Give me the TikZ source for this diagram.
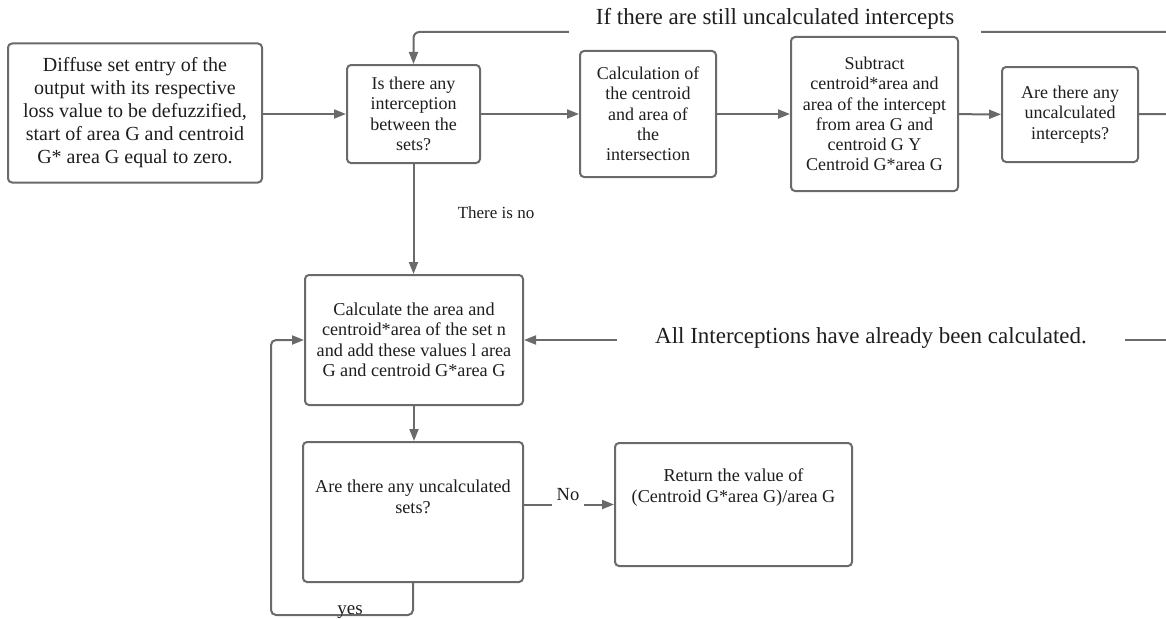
\documentclass[tikz,border=0pt]{standalone}
\usepackage{fontspec}
\setmainfont{Liberation Serif}
\usetikzlibrary{arrows.meta}
\definecolor{edge}{HTML}{6A6A6A}
\definecolor{ink}{HTML}{1E1E1E}
\begin{document}
\begin{tikzpicture}[x=1pt,y=-1pt,
  box/.style={draw=edge, line width=2pt, rounded corners=4pt, align=center, text=ink, inner sep=2pt, fill=white},
  conn/.style={draw=edge, line width=2pt, -{Triangle[length=12pt,width=9pt]}},
  plain/.style={draw=edge, line width=2pt},
  lbl/.style={text=ink, fill=white, inner sep=0pt},
  fA/.style={font=\fontsize{20}{23}\selectfont},
  fB/.style={font=\fontsize{18}{20.3}\selectfont},
  fC/.style={font=\fontsize{18.2}{20.5}\selectfont},
  fD/.style={font=\fontsize{23}{26}\selectfont}]
\useasboundingbox (0,0) rectangle (1166,618);

% nodes
\node[box, fA, minimum width=254pt, minimum height=139pt] (b1) at (135,113)
  {Diffuse set entry of the\\output with its respective\\loss value to be defuzzified,\\start of area G and centroid\\G* area G equal to zero.};
\node[box, fB, minimum width=133pt, minimum height=98pt] (b2) at (413.5,114)
  {Is there any\\interception\\between the\\sets?};
\node[box, fB, minimum width=136pt, minimum height=126pt] (b3) at (648,114)
  {Calculation of\\the centroid\\and area of\\the\\intersection};
\node[box, fB, minimum width=167pt, minimum height=154pt] (b4) at (874.5,114)
  {Subtract\\centroid*area and\\area of the intercept\\from area G and\\centroid G Y\\Centroid G*area G};
\node[box, fB, minimum width=136pt, minimum height=95pt] (b5) at (1070,114.5)
  {Are there any\\uncalculated\\intercepts?};
\node[box, fC, minimum width=218pt, minimum height=130pt] (b6) at (414,340)
  {Calculate the area and\\centroid*area of the set n\\and add these values l area\\G and centroid G*area G};
\node[box, minimum width=220pt, minimum height=140pt,
  label={[fC, align=center, text=ink, yshift=15pt]center:Are there any uncalculated\\sets?}] (b7) at (413,512) {};
\node[box, minimum width=237pt, minimum height=123pt,
  label={[fC, align=center, text=ink, yshift=17pt]center:Return the value of\\(Centroid G*area G)/area G}] (b8) at (733.5,504.5) {};

% coordinates at the cut right edge
\coordinate (r0) at (1166,32);
\coordinate (r1) at (1166,114);
\coordinate (r2) at (1166,340);
\coordinate (c1) at (271,615);

% connectors
\draw[conn] (b1.east |- b2.west) -- (b2.west);
\draw[conn] (b2) -- (b3);
\draw[conn] (b3) -- (b4);
\draw[conn] (b4) -- (b5);
\draw[plain] (b5) -- (r1);
\draw[conn, rounded corners=6pt] (r0) -| (b2.north);
\draw[conn] (b2.south) -- (b2.south |- b6.north);
\draw[conn] (r2) -- (b6.east);
\draw[conn] (b6.south) -- (b6.south |- b7.north);
\draw[conn] (b8.west -| b7.east) -- (b8.west);
\draw[conn, rounded corners=5pt] (b7.south) |- (c1) |- (b6.west);

% labels
\node[lbl, fD, minimum width=412pt, minimum height=28pt] (t1) at (775,19) {If there are still uncalculated intercepts};
\node[text=ink, font=\fontsize{17}{20}\selectfont] (t2) at (496,213) {There is no};
\node[lbl, fD, minimum width=508pt, minimum height=24pt] (t3) at (871,338) {All Interceptions have already been calculated.};
\node[lbl, font=\fontsize{18.5}{21}\selectfont, inner xsep=5pt, minimum height=24pt] (t4) at (568,495) {No};
\node[text=ink, font=\fontsize{19}{21}\selectfont, inner sep=0pt, anchor=base] (t5) at (350,614) {yes};
\end{tikzpicture}
\end{document}
